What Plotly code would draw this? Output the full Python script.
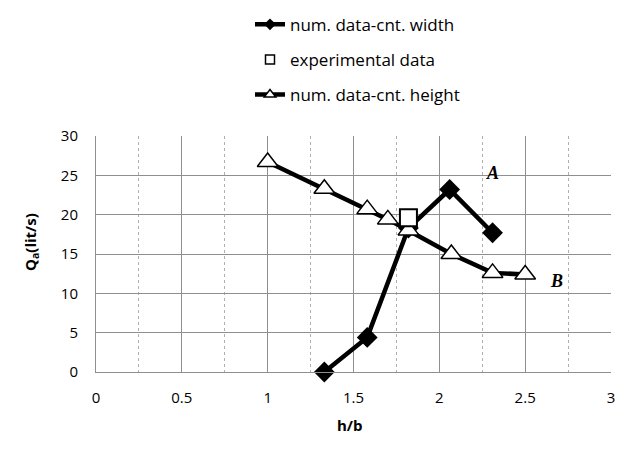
import plotly.graph_objects as go

# data
width_x = [1.33, 1.58, 1.82, 2.06, 2.31]
width_y = [0.0, 4.4, 18.3, 23.2, 17.7]
exp_x = [1.82]
exp_y = [19.6]
height_x = [1.0, 1.33, 1.58, 1.70, 1.82, 2.07, 2.31, 2.50]
height_y = [26.7, 23.3, 20.7, 19.4, 18.0, 15.0, 12.6, 12.4]
labels = [("A", 2.31, 25.3), ("B", 2.68, 11.6)]
names = ["num. data-cnt. width", "experimental data", "num. data-cnt. height"]

fig = go.Figure()
fig.add_trace(go.Scatter(x=width_x, y=width_y, mode="lines+markers", showlegend=False,
                         line=dict(color="black", width=4.5),
                         marker=dict(symbol="diamond", size=16, color="black"),
                         cliponaxis=False))
fig.add_trace(go.Scatter(x=height_x, y=height_y, mode="lines+markers", showlegend=False,
                         line=dict(color="black", width=4.5),
                         marker=dict(symbol="triangle-up", size=18, color="white",
                                     line=dict(color="black", width=1.5)),
                         cliponaxis=False))
fig.add_trace(go.Scatter(x=exp_x, y=exp_y, mode="markers", showlegend=False,
                         marker=dict(symbol="square", size=17, color="white",
                                     line=dict(color="black", width=2)),
                         cliponaxis=False))

# legend entries (smaller markers, as in reference)
fig.add_trace(go.Scatter(x=[None], y=[None], mode="lines+markers", name=names[0], legendgroup="a",
                         line=dict(color="black", width=4.5),
                         marker=dict(symbol="diamond", size=9, color="black")))
fig.add_trace(go.Scatter(x=[None], y=[None], mode="markers", name=names[1], legendgroup="b",
                         marker=dict(symbol="square", size=9, color="white",
                                     line=dict(color="black", width=1.5))))
fig.add_trace(go.Scatter(x=[None], y=[None], mode="lines+markers", name=names[2], legendgroup="c",
                         line=dict(color="black", width=4.5),
                         marker=dict(symbol="triangle-up", size=10, color="white",
                                     line=dict(color="black", width=1.5))))

for t, lx, ly in labels:
    fig.add_annotation(x=lx, y=ly, text=f"<b><i>{t}</i></b>", showarrow=False,
                       font=dict(family="Liberation Serif", size=18, color="black"))

# axis titles as annotations
fig.add_annotation(xref="paper", yref="paper", x=(18 - 96) / 515, y=(372 - 242) / 236,
                   text="<b>Q<sub>a</sub>(lit/s)</b>", textangle=-90, showarrow=False,
                   font=dict(family="Open Sans", size=15, color="black"))
fig.add_annotation(xref="paper", yref="paper", x=(350 - 96) / 515, y=-(437 - 372) / 236,
                   text="<b>h/b</b>", showarrow=False,
                   font=dict(family="Open Sans", size=15, color="black"))

fig.update_layout(
    width=625, height=454,
    margin=dict(l=96, r=14, t=136, b=82, autoexpand=False),
    paper_bgcolor="white", plot_bgcolor="white",
    font=dict(family="Open Sans", size=15, color="black"),
    legend=dict(xref="container", yref="container", x=0.4, y=0.985, xanchor="left", yanchor="top",
                font=dict(family="Open Sans", size=17), tracegroupgap=10,
                bgcolor="rgba(0,0,0,0)"),
    xaxis=dict(range=[0, 3], dtick=0.5, showgrid=True, gridcolor="#8f8f8f", gridwidth=1,
               zeroline=False, showline=True, linecolor="#8f8f8f", ticks="",
               ticklabelstandoff=12,
               minor=dict(dtick=0.25, showgrid=True, gridcolor="#b0b0b0", griddash="dot", gridwidth=1),
               tickfont=dict(family="Open Sans", size=15)),
    yaxis=dict(range=[0, 30], dtick=5, showgrid=True, gridcolor="#8f8f8f", gridwidth=1,
               zeroline=False, showline=True, linecolor="#8f8f8f", ticks="",
               ticklabelstandoff=14,
               tickfont=dict(family="Open Sans", size=15)),
)

fig.write_html("out.html")
